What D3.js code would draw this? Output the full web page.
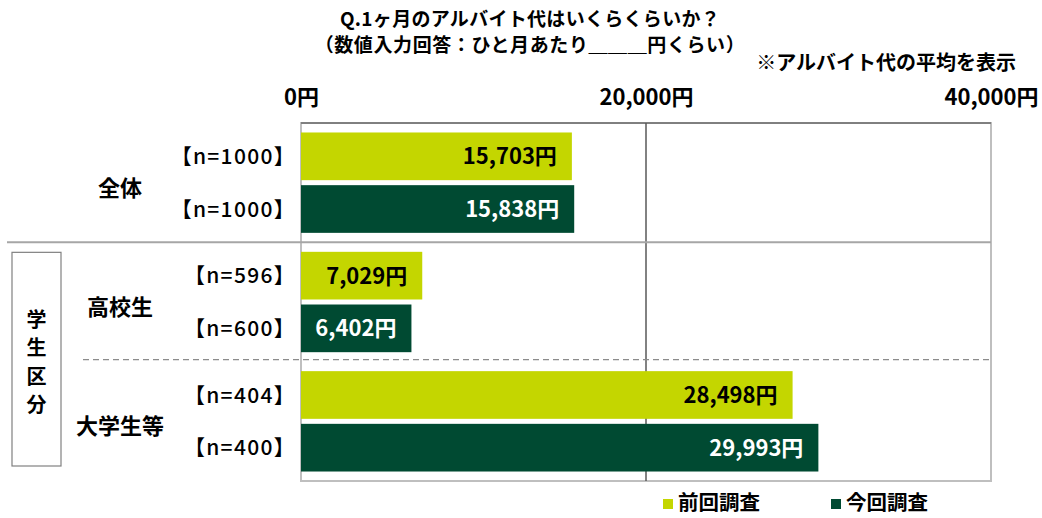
<!DOCTYPE html>
<html>
<head>
<meta charset="utf-8">
<script src="https://cdn.jsdelivr.net/npm/d3@7"></script>
<style>
  body { margin: 0; background: #fff; }
  svg { display: block; font-family: "Noto Sans CJK JP", "Noto Sans", sans-serif; font-weight: 700; }
</style>
</head>
<body>
<svg id="chart" width="1042" height="518"></svg>
<script>
// data
const groups = ["全体", "高校生", "大学生等"];
const seriesNames = ["前回調査", "今回調査"];
const prevValues = [15703, 7029, 28498];
const currValues = [15838, 6402, 29993];
const prevN = [1000, 596, 404];
const currN = [1000, 600, 400];
const xTicks = [0, 20000, 40000];
const colors = ["#c4d600", "#004a32"];
const labelColors = ["#000", "#fff"];

const svg = d3.select("#chart");
const plot = { left: 301, right: 991, top: 123, bottom: 481 };

const x = d3.scaleLinear()
    .domain([0, 40000])
    .range([plot.left, plot.right]);

const y = d3.scaleBand()
    .domain(groups)
    .range([plot.top, plot.bottom]);

const yInner = d3.scaleBand()
    .domain(seriesNames)
    .range([0, y.bandwidth()])
    .paddingInner(0.095)
    .paddingOuter(0.18);

const color = d3.scaleOrdinal().domain(seriesNames).range(colors);

// flat rows
const rows = [];
groups.forEach((g, i) => {
    rows.push({ group: g, series: seriesNames[0], value: prevValues[i], n: prevN[i] });
    rows.push({ group: g, series: seriesNames[1], value: currValues[i], n: currN[i] });
});

// titles
svg.append("text").attr("x", 530).attr("y", 26).attr("text-anchor", "middle")
    .attr("font-size", 19).attr("letter-spacing", 0.3)
    .text("Q.1ヶ月のアルバイト代はいくらくらいか？");
svg.append("text").attr("x", 530).attr("y", 52).attr("text-anchor", "middle")
    .attr("font-size", 19).attr("letter-spacing", 0.6)
    .text("（数値入力回答：ひと月あたり＿＿＿円くらい）");
svg.append("text").attr("x", 1016).attr("y", 70).attr("text-anchor", "end")
    .attr("font-size", 20).text("※アルバイト代の平均を表示");

// axis on top
const xAxis = svg.append("g")
    .attr("transform", "translate(0," + plot.top + ")")
    .call(d3.axisTop(x).tickValues(xTicks).tickSize(0).tickPadding(18)
        .tickFormat(d => d3.format(",")(d) + "円"));
xAxis.select(".domain").remove();
xAxis.selectAll("text")
    .attr("font-size", 22)
    .attr("font-family", "'Noto Sans CJK JP', sans-serif")
    .attr("font-weight", 700)
    .attr("fill", "#000");

// plot frame
svg.append("rect")
    .attr("x", plot.left).attr("y", plot.top)
    .attr("width", plot.right - plot.left).attr("height", plot.bottom - plot.top)
    .attr("fill", "none").attr("stroke", "#bfbfbf").attr("stroke-width", 2);
svg.append("line")
    .attr("x1", plot.left).attr("x2", plot.right)
    .attr("y1", plot.top).attr("y2", plot.top)
    .attr("stroke", "#404040").attr("stroke-width", 1);

// gridline at 20,000
svg.append("line")
    .attr("x1", x(20000)).attr("x2", x(20000))
    .attr("y1", plot.top).attr("y2", plot.bottom)
    .attr("stroke", "#595959").attr("stroke-width", 1.5);

// separators
svg.append("line")
    .attr("x1", 7).attr("x2", plot.right)
    .attr("y1", y(groups[1])).attr("y2", y(groups[1]))
    .attr("stroke", "#a6a6a6").attr("stroke-width", 2);
svg.append("line")
    .attr("x1", 83).attr("x2", plot.right)
    .attr("y1", y(groups[2]) - 2).attr("y2", y(groups[2]) - 2)
    .attr("stroke", "#8c8c8c").attr("stroke-width", 1.2)
    .attr("stroke-dasharray", "6,4");

// bars
const bar = svg.append("g").selectAll("g")
    .data(rows)
    .join("g")
    .attr("transform", d => "translate(0," + (y(d.group) + yInner(d.series)) + ")");

bar.append("rect")
    .attr("x", x(0))
    .attr("width", d => x(d.value) - x(0))
    .attr("height", yInner.bandwidth())
    .attr("fill", d => color(d.series));

bar.append("text")
    .attr("x", d => x(d.value) - 15)
    .attr("y", yInner.bandwidth() / 2)
    .attr("dy", "0.36em")
    .attr("text-anchor", "end")
    .attr("font-size", 22)
    .attr("fill", d => labelColors[seriesNames.indexOf(d.series)])
    .text(d => d3.format(",")(d.value) + "円");

bar.append("text")
    .attr("x", 296)
    .attr("y", yInner.bandwidth() / 2)
    .attr("dy", "0.36em")
    .attr("text-anchor", "end")
    .attr("font-size", 21)
    .attr("font-weight", 500)
    .attr("letter-spacing", 1.3)
    .text(d => "【n=" + d.n + "】");

// group labels
svg.append("g").selectAll("text")
    .data(groups)
    .join("text")
    .attr("x", 120)
    .attr("y", d => y(d) + y.bandwidth() / 2 + 5)
    .attr("dy", "0.36em")
    .attr("text-anchor", "middle")
    .attr("font-size", 22)
    .text(d => d);

// 学生区分 box
const boxTop = y(groups[1]) + 10;
const boxBottom = y(groups[2]) + y.bandwidth() - 15;
svg.append("rect")
    .attr("x", 12).attr("y", boxTop)
    .attr("width", 49).attr("height", boxBottom - boxTop)
    .attr("fill", "none").attr("stroke", "#808080").attr("stroke-width", 1.2);
const boxChars = "学生区分".split("");
const boxMid = (boxTop + boxBottom) / 2 + 3;
svg.append("g").selectAll("text")
    .data(boxChars)
    .join("text")
    .attr("x", 36.5)
    .attr("y", (d, i) => boxMid + (i - 1.5) * 28.5)
    .attr("dy", "0.36em")
    .attr("text-anchor", "middle")
    .attr("font-size", 20)
    .text(d => d);

// legend
const legendX = [663, 831];
const legend = svg.append("g").selectAll("g")
    .data(seriesNames)
    .join("g")
    .attr("transform", (d, i) => "translate(" + legendX[i] + ",503)");
legend.append("rect")
    .attr("x", 0).attr("y", -4)
    .attr("width", 10).attr("height", 10)
    .attr("fill", d => color(d));
legend.append("text")
    .attr("x", 15)
    .attr("dy", "0.36em")
    .attr("font-size", 20.5)
    .text(d => d);
</script>
</body>
</html>
